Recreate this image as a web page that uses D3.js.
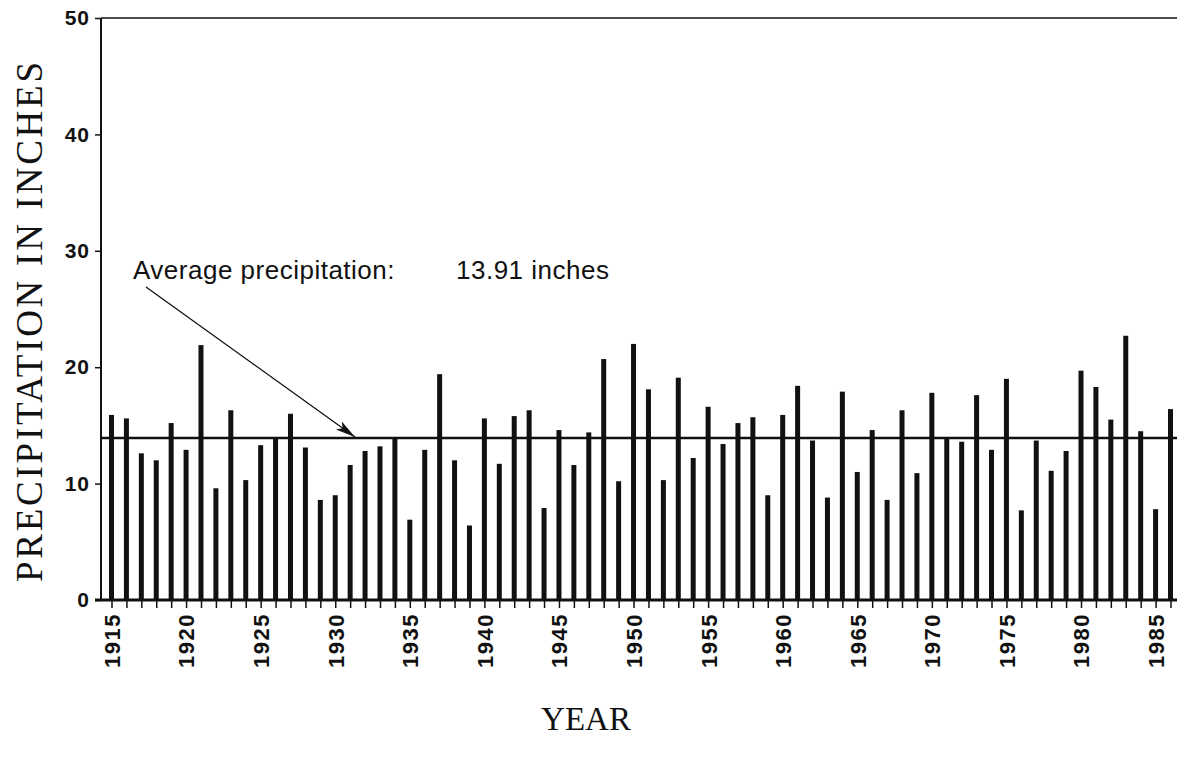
<!DOCTYPE html>
<html>
<head>
<meta charset="utf-8">
<script src="https://cdn.jsdelivr.net/npm/d3@7/dist/d3.min.js"></script>
<style>
  html, body { margin: 0; padding: 0; background: #fff; }
  svg { display: block; }
  .tick text { fill: #111; }
</style>
</head>
<body>
<svg id="chart" width="1177" height="764"></svg>
<script>
// Annual precipitation, 1915-1986 (inches)
const years = d3.range(1915, 1987);
const precipitation = [
  15.9, 15.6, 12.6, 12.0, 15.2, 12.9, 21.9, 9.6, 16.3, 10.3,
  13.3, 14.0, 16.0, 13.1, 8.6, 9.0, 11.6, 12.8, 13.2, 14.0,
  6.9, 12.9, 19.4, 12.0, 6.4, 15.6, 11.7, 15.8, 16.3, 7.9,
  14.6, 11.6, 14.4, 20.7, 10.2, 22.0, 18.1, 10.3, 19.1, 12.2,
  16.6, 13.4, 15.2, 15.7, 9.0, 15.9, 18.4, 13.7, 8.8, 17.9,
  11.0, 14.6, 8.6, 16.3, 10.9, 17.8, 14.0, 13.6, 17.6, 12.9,
  19.0, 7.7, 13.7, 11.1, 12.8, 19.7, 18.3, 15.5, 22.7, 14.5,
  7.8, 16.4
];
const averagePrecip = 13.91;
const yTickValues = [0, 10, 20, 30, 40, 50];
const xLabelYears = d3.range(1915, 1986, 5);

const svg = d3.select("#chart");
const W = 1177;
const plotLeft = 101, plotTop = 18, plotBottom = 600, plotRight = W;

const x = d3.scaleLinear().domain([1915, 1986]).range([111.5, 1170.5]);
const y = d3.scaleLinear().domain([0, 50]).range([plotBottom, plotTop]);

const sans = "'Liberation Sans', Arial, Helvetica, sans-serif";
const serif = "'Liberation Serif', 'Times New Roman', serif";

// Frame: top border and left axis line
svg.append("line")
  .attr("x1", plotLeft).attr("x2", plotRight).attr("y1", plotTop).attr("y2", plotTop)
  .attr("stroke", "#111").attr("stroke-width", 1.5);
svg.append("line")
  .attr("x1", plotLeft).attr("x2", plotLeft).attr("y1", plotTop).attr("y2", plotBottom)
  .attr("stroke", "#111").attr("stroke-width", 2);

// Y axis
const yAxis = svg.append("g")
  .attr("transform", `translate(${plotLeft},0)`)
  .call(d3.axisLeft(y).tickValues(yTickValues).tickSize(6).tickPadding(5));
yAxis.select(".domain").remove();
yAxis.selectAll(".tick line").attr("stroke", "#111").attr("stroke-width", 1.5);
yAxis.selectAll(".tick text")
  .style("font-family", sans).style("font-size", "21px").style("font-weight", "bold")
  .style("letter-spacing", "1px");

// Bars
svg.append("g").selectAll("rect")
  .data(years.map((yr, i) => ({ year: yr, value: precipitation[i] })))
  .join("rect")
  .attr("x", d => x(d.year) - 2.5)
  .attr("width", 5)
  .attr("y", d => y(d.value))
  .attr("height", d => y(0) - y(d.value))
  .attr("fill", "#111");

// X axis with a tick for every year, labels every five years
const xAxis = svg.append("g")
  .attr("transform", `translate(0,${plotBottom})`)
  .call(d3.axisBottom(x).tickValues(years).tickSize(8)
    .tickFormat(d => xLabelYears.includes(d) ? String(d) : ""));
xAxis.select(".domain").remove();
xAxis.selectAll(".tick line").attr("stroke", "#111").attr("stroke-width", 1.5);
xAxis.selectAll(".tick text")
  .attr("transform", "rotate(-90)")
  .attr("x", -13).attr("y", 0).attr("dy", "0.36em")
  .style("text-anchor", "end")
  .style("font-family", sans).style("font-size", "22px").style("font-weight", "bold")
  .style("letter-spacing", "1.5px");

// Baseline
svg.append("line")
  .attr("x1", plotLeft - 6).attr("x2", plotRight).attr("y1", y(0)).attr("y2", y(0))
  .attr("stroke", "#111").attr("stroke-width", 3);

// Average line
svg.append("line")
  .attr("x1", plotLeft).attr("x2", plotRight)
  .attr("y1", y(averagePrecip)).attr("y2", y(averagePrecip))
  .attr("stroke", "#111").attr("stroke-width", 2.5);

// Annotation with arrow to the average line
svg.append("defs").append("marker")
  .attr("id", "arrowhead")
  .attr("viewBox", "0 0 20 10")
  .attr("refX", 20).attr("refY", 5)
  .attr("markerWidth", 20).attr("markerHeight", 10)
  .attr("markerUnits", "userSpaceOnUse")
  .attr("orient", "auto")
  .append("path").attr("d", "M0,0 L20,5 L0,10 L5,5 Z").attr("fill", "#111");

svg.append("line")
  .attr("x1", 146).attr("y1", 287)
  .attr("x2", 355).attr("y2", y(averagePrecip) - 1)
  .attr("stroke", "#111").attr("stroke-width", 1.3)
  .attr("marker-end", "url(#arrowhead)");

svg.append("text")
  .attr("x", 133).attr("y", 279)
  .style("font-family", sans).style("font-size", "26px").style("letter-spacing", "0.5px")
  .attr("fill", "#111")
  .text("Average precipitation:");
svg.append("text")
  .attr("x", 456).attr("y", 279)
  .style("font-family", sans).style("font-size", "26px").style("letter-spacing", "0.5px")
  .attr("fill", "#111")
  .text(`${averagePrecip.toFixed(2)} inches`);

// Axis titles
svg.append("text")
  .attr("transform", `translate(42,322) rotate(-90)`)
  .style("text-anchor", "middle")
  .style("font-family", serif).style("font-size", "37px").attr("fill", "#111")
  .attr("textLength", 520).attr("lengthAdjust", "spacing")
  .text("PRECIPITATION IN INCHES");
svg.append("text")
  .attr("x", 586).attr("y", 730)
  .style("text-anchor", "middle")
  .style("font-family", serif).style("font-size", "33px").attr("fill", "#111")
  .text("YEAR");
</script>
</body>
</html>
